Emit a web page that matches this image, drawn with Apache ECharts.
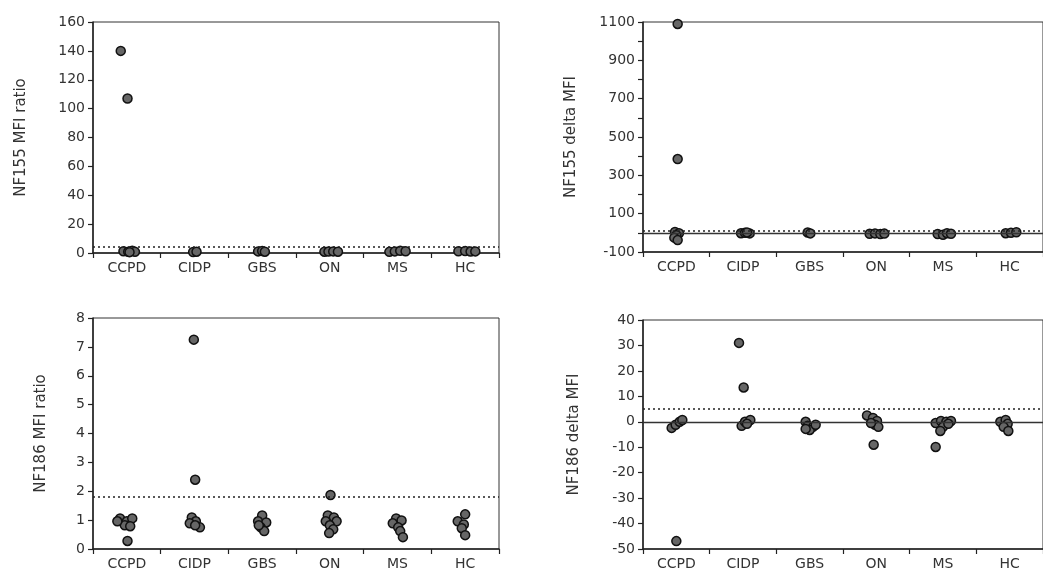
<!DOCTYPE html>
<html>
<head>
<meta charset="utf-8">
<script src="https://cdn.jsdelivr.net/npm/echarts@6/dist/echarts.min.js"></script>
<style>
html,body{margin:0;padding:0;background:#fff;}
#chart{width:1043px;height:571px;}
</style>
</head>
<body>
<div id="chart"></div>
<script>
// ---- data ----
const categories = ['CCPD', 'CIDP', 'GBS', 'ON', 'MS', 'HC'];

// [category, horizontal jitter (fraction of a category), value]
const nf155RatioPoints = [
  ['CCPD', -0.09, 140], ['CCPD', 0.01, 107],
  ['CCPD', -0.05, 1.2], ['CCPD', 0.02, 0.9], ['CCPD', 0.08, 1.5], ['CCPD', 0.12, 0.8], ['CCPD', 0.04, 0.6],
  ['CIDP', -0.02, 0.7], ['CIDP', 0.03, 0.9],
  ['GBS', -0.06, 1.1], ['GBS', 0.0, 1.4], ['GBS', 0.04, 0.9],
  ['ON', -0.08, 0.9], ['ON', -0.02, 1.0], ['ON', 0.05, 1.1], ['ON', 0.12, 0.9],
  ['MS', -0.12, 0.8], ['MS', -0.04, 1.1], ['MS', 0.04, 1.5], ['MS', 0.12, 1.2],
  ['HC', -0.1, 1.2], ['HC', 0.0, 1.4], ['HC', 0.08, 1.0], ['HC', 0.15, 1.1]
];
const nf155RatioCutoff = 4;

const nf155DeltaPoints = [
  ['CCPD', 0.02, 1090], ['CCPD', 0.02, 385],
  ['CCPD', -0.02, 5], ['CCPD', 0.04, -2], ['CCPD', 0.0, -12], ['CCPD', -0.03, -25], ['CCPD', 0.02, -38],
  ['CIDP', -0.03, -2], ['CIDP', 0.03, 0], ['CIDP', 0.1, -3], ['CIDP', 0.06, 2],
  ['GBS', -0.03, 2], ['GBS', 0.01, -3],
  ['ON', -0.1, -5], ['ON', -0.02, -3], ['ON', 0.06, -6], ['ON', 0.12, -4],
  ['MS', -0.08, -6], ['MS', 0.0, -10], ['MS', 0.06, -2], ['MS', 0.12, -5],
  ['HC', -0.06, -2], ['HC', 0.02, 0], ['HC', 0.1, 3]
];
const nf155DeltaCutoff = 12;

const nf186RatioPoints = [
  ['CCPD', -0.10, 1.06], ['CCPD', 0.0, 0.96], ['CCPD', 0.08, 1.06], ['CCPD', -0.03, 0.82], ['CCPD', 0.05, 0.79], ['CCPD', -0.14, 0.96], ['CCPD', 0.01, 0.28],
  ['CIDP', -0.01, 7.25], ['CIDP', 0.01, 2.4],
  ['CIDP', -0.04, 1.09], ['CIDP', 0.02, 0.96], ['CIDP', -0.07, 0.89], ['CIDP', 0.08, 0.75], ['CIDP', 0.01, 0.82],
  ['GBS', 0.0, 1.16], ['GBS', -0.06, 0.96], ['GBS', 0.06, 0.92], ['GBS', -0.02, 0.75], ['GBS', 0.03, 0.62], ['GBS', -0.05, 0.82],
  ['ON', 0.01, 1.87],
  ['ON', -0.03, 1.16], ['ON', 0.06, 1.09], ['ON', -0.06, 0.96], ['ON', 0.1, 0.96], ['ON', 0.0, 0.82], ['ON', 0.05, 0.68], ['ON', -0.01, 0.55],
  ['MS', -0.02, 1.06], ['MS', 0.06, 0.99], ['MS', -0.07, 0.89], ['MS', 0.01, 0.75], ['MS', 0.04, 0.62], ['MS', 0.08, 0.41],
  ['HC', 0.0, 1.2], ['HC', -0.11, 0.96], ['HC', -0.02, 0.85], ['HC', -0.05, 0.72], ['HC', 0.0, 0.48]
];
const nf186RatioCutoff = 1.8;

const nf186DeltaPoints = [
  ['CCPD', -0.07, -2.4], ['CCPD', -0.01, -1.2], ['CCPD', 0.05, 0], ['CCPD', 0.09, 0.7], ['CCPD', 0.0, -46.9],
  ['CIDP', -0.06, 31], ['CIDP', 0.01, 13.5],
  ['CIDP', -0.02, -1.6], ['CIDP', 0.03, 0], ['CIDP', 0.11, 0.7], ['CIDP', 0.06, -0.8],
  ['GBS', -0.06, 0], ['GBS', -0.03, -1.6], ['GBS', 0.05, -2], ['GBS', 0.0, -3.2], ['GBS', 0.09, -1.2], ['GBS', -0.06, -2.8],
  ['ON', -0.14, 2.5], ['ON', -0.05, 1.5], ['ON', 0.01, 0.3], ['ON', -0.02, -1.2], ['ON', 0.03, -2], ['ON', -0.08, -0.5], ['ON', -0.04, -9],
  ['MS', -0.11, -0.5], ['MS', -0.03, 0.3], ['MS', 0.05, 0], ['MS', 0.12, 0.3], ['MS', 0.0, -2], ['MS', -0.04, -3.6], ['MS', 0.08, -0.8], ['MS', -0.11, -9.9],
  ['HC', -0.14, 0], ['HC', -0.06, 0.7], ['HC', -0.03, -0.8], ['HC', -0.09, -2], ['HC', -0.02, -3.6]
];
const nf186DeltaCutoff = 5;

const panelTitles = ['NF155 MFI ratio', 'NF155 delta MFI', 'NF186 MFI ratio', 'NF186 delta MFI'];
const yRanges = [[0, 160, 20], [-100, 1100, 100], [0, 8, 1], [-50, 40, 10]];

// ---- chart ----
const FONT = 'DejaVu Sans';
const TXT = '#333';
const panels = [
  { pts: nf155RatioPoints, cut: nf155RatioCutoff, zero: false, grid: { left: 93, top: 22, width: 406, height: 231 }, gap: 64 },
  { pts: nf155DeltaPoints, cut: nf155DeltaCutoff, zero: true, grid: { left: 643, top: 22, width: 405, height: 230 }, gap: 64 },
  { pts: nf186RatioPoints, cut: nf186RatioCutoff, zero: false, grid: { left: 93, top: 318, width: 406, height: 234 }, gap: 44 },
  { pts: nf186DeltaPoints, cut: nf186DeltaCutoff, zero: true, grid: { left: 643, top: 320, width: 405, height: 231 }, gap: 61 }
];

const grid = [], xAxis = [], yAxis = [], series = [];
panels.forEach((p, i) => {
  grid.push(Object.assign({ show: true, borderColor: '#333', borderWidth: 1, backgroundColor: 'transparent' }, p.grid));
  xAxis.push({
    type: 'category', gridIndex: i, data: categories, boundaryGap: true,
    axisLine: { show: true, onZero: false, lineStyle: { color: '#222', width: 1.5 } },
    axisTick: { show: true, length: 5, lineStyle: { color: '#222', width: 1.2 } },
    axisLabel: { fontFamily: FONT, fontSize: 14, color: TXT, margin: 8 },
    splitLine: { show: false }
  });
  const r = yRanges[i];
  yAxis.push({
    type: 'value', gridIndex: i, min: r[0], max: r[1], interval: r[2],
    name: panelTitles[i], nameLocation: 'middle', nameGap: p.gap, nameRotate: 90,
    nameTextStyle: { fontFamily: FONT, fontSize: 15, color: TXT },
    axisLine: { show: true, onZero: false, lineStyle: { color: '#222', width: 1.5 } },
    axisTick: { show: true, length: 5, lineStyle: { color: '#222', width: 1.2 } },
    axisLabel: {
      fontFamily: FONT, fontSize: 14, color: TXT, margin: 8,
      formatter: i === 1 ? (v => (Math.abs(v) % 200 === 100 ? String(v) : '')) : (v => String(v))
    },
    splitLine: { show: false }
  });
});
panels.forEach((p, i) => {
  xAxis.push({ type: 'value', gridIndex: i, min: -0.5, max: 5.5, show: false, axisLine: { onZero: false } });
});
panels.forEach((p, i) => {
  const lines = [{ yAxis: p.cut, lineStyle: { type: [2, 3], color: '#222', width: 1.5 } }];
  if (p.zero) lines.push({ yAxis: 0, lineStyle: { type: 'solid', color: '#333', width: 1.3 } });
  series.push({
    type: 'scatter', xAxisIndex: 4 + i, yAxisIndex: i,
    data: p.pts.map(d => [categories.indexOf(d[0]) + d[1], d[2]]),
    symbol: 'circle', symbolSize: 9,
    itemStyle: { color: '#666', borderColor: '#111', borderWidth: 1.5, opacity: 1 },
    markLine: { silent: true, symbol: 'none', label: { show: false }, data: lines, animation: false },
    animation: false
  });
});

const chart = echarts.init(document.getElementById('chart'), null, { renderer: 'canvas' });
chart.setOption({ animation: false, backgroundColor: '#fff', grid, xAxis, yAxis, series });
</script>
</body>
</html>
